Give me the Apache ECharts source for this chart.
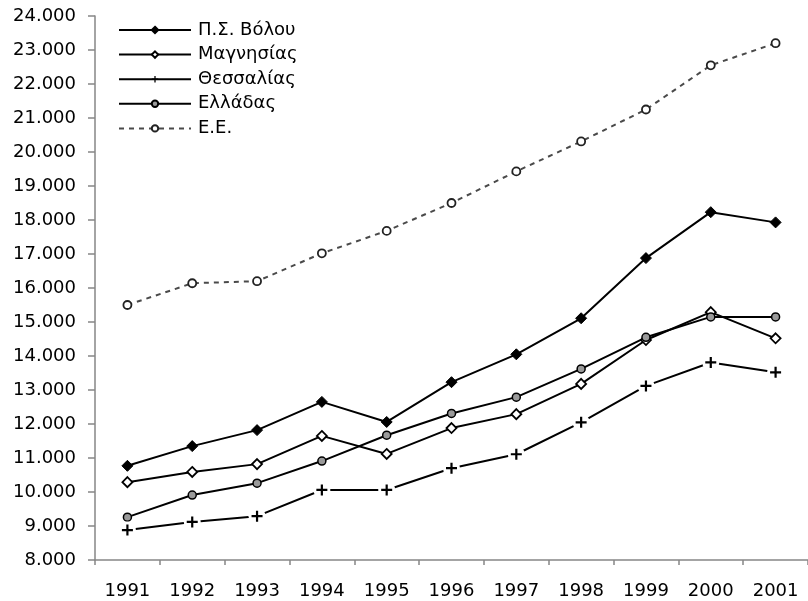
<!DOCTYPE html>
<html>
<head>
<meta charset="utf-8">
<script src="https://cdn.jsdelivr.net/npm/echarts@6/dist/echarts.min.js"></script>
<style>
  html, body { margin: 0; padding: 0; background: #fff; }
  #chart { width: 808px; height: 601px; }
</style>
</head>
<body>
<div id="chart"></div>
<script>
// Years on the horizontal axis
const years = ['1991', '1992', '1993', '1994', '1995', '1996', '1997', '1998', '1999', '2000', '2001'];

// Values per area
const volos      = [10770, 11350, 11820, 12650, 12060, 13230, 14050, 15110, 16880, 18230, 17930];
const magnisias  = [10290, 10590, 10820, 11650, 11120, 11880, 12290, 13180, 14470, 15290, 14520];
const thessalias = [8880, 9120, 9290, 10060, 10060, 10700, 11110, 12050, 13120, 13810, 13520];
const elladas    = [9260, 9910, 10260, 10910, 11670, 12310, 12790, 13620, 14550, 15150, 15150];
const ee         = [15500, 16140, 16200, 17020, 17680, 18500, 19430, 20310, 21250, 22550, 23200];

// Vertical axis range
const yMin = 8000, yMax = 24000, yStep = 1000;

const FONT = 'DejaVu Sans';
const plusPath = 'path://M4,0H6V4H10V6H6V10H4V6H0V4H4Z';

const chart = echarts.init(document.getElementById('chart'), null, { renderer: 'canvas' });

chart.setOption({
  animation: false,
  backgroundColor: '#ffffff',
  textStyle: { fontFamily: FONT },
  grid: { left: 95, top: 16, width: 722, bottom: 41, containLabel: false },
  legend: {
    orient: 'vertical',
    left: 118,
    top: 21,
    padding: 0,
    itemWidth: 72,
    itemHeight: 8,
    itemGap: 6.6,
    data: ['Π.Σ. Βόλου', 'Μαγνησίας', 'Θεσσαλίας', 'Ελλάδας', 'Ε.Ε.'],
    textStyle: { fontFamily: FONT, fontSize: 18, color: '#000', lineHeight: 18, padding: [0, 0, 0, 2] }
  },
  xAxis: {
    type: 'category',
    data: years,
    boundaryGap: true,
    axisLine: { lineStyle: { color: '#868686', width: 1.5 } },
    axisTick: { show: true, length: 5, inside: false, lineStyle: { color: '#868686', width: 1.5 } },
    axisLabel: { fontFamily: FONT, fontSize: 18, color: '#000', margin: 22 },
    splitLine: { show: false }
  },
  yAxis: {
    type: 'value',
    min: yMin,
    max: yMax,
    interval: yStep,
    axisLine: { show: true, lineStyle: { color: '#868686', width: 1.5 } },
    axisTick: { show: true, length: 7, lineStyle: { color: '#868686', width: 1.5 } },
    axisLabel: {
      fontFamily: FONT, fontSize: 18, color: '#000', margin: 19,
      formatter: v => Math.round(v / 1000) + '.000'
    },
    splitLine: { show: false }
  },
  series: [
    {
      name: 'Π.Σ. Βόλου', type: 'line', data: volos, z: 2,
      symbol: 'diamond', symbolSize: 11,
      lineStyle: { color: '#000', width: 2 },
      itemStyle: { color: '#000', borderColor: '#000', borderWidth: 1 }
    },
    {
      name: 'Μαγνησίας', type: 'line', data: magnisias, z: 2,
      symbol: 'diamond', symbolSize: 10,
      lineStyle: { color: '#000', width: 2 },
      itemStyle: { color: '#fff', borderColor: '#000', borderWidth: 1.8 }
    },
    {
      name: 'Ελλάδας', type: 'line', data: elladas, z: 2,
      symbol: 'circle', symbolSize: 8,
      lineStyle: { color: '#000', width: 2 },
      itemStyle: { color: '#9a9a9a', borderColor: '#000', borderWidth: 1.5 }
    },
    {
      name: 'Ε.Ε.', type: 'line', data: ee, z: 2,
      symbol: 'circle', symbolSize: 8,
      lineStyle: { color: '#4a4a4a', width: 2, type: [5, 5] },
      itemStyle: { color: '#fff', borderColor: '#222', borderWidth: 1.8 }
    },
    {
      name: 'Θεσσαλίας', type: 'line', data: thessalias, z: 3,
      symbol: plusPath, symbolSize: 11,
      lineStyle: { color: '#000', width: 2 },
      itemStyle: { color: '#000', borderWidth: 0 }
    },
    {
      // white halo that opens a gap in the line around each cross marker
      name: 'halo', type: 'scatter', data: thessalias, z: 4,
      symbol: 'circle', symbolSize: 17, silent: true,
      itemStyle: { color: '#fff', opacity: 1 }
    },
    {
      name: 'cross', type: 'scatter', data: thessalias, z: 5,
      symbol: plusPath, symbolSize: 11, silent: true,
      itemStyle: { color: '#000', opacity: 1 }
    }
  ]
});
</script>
</body>
</html>
